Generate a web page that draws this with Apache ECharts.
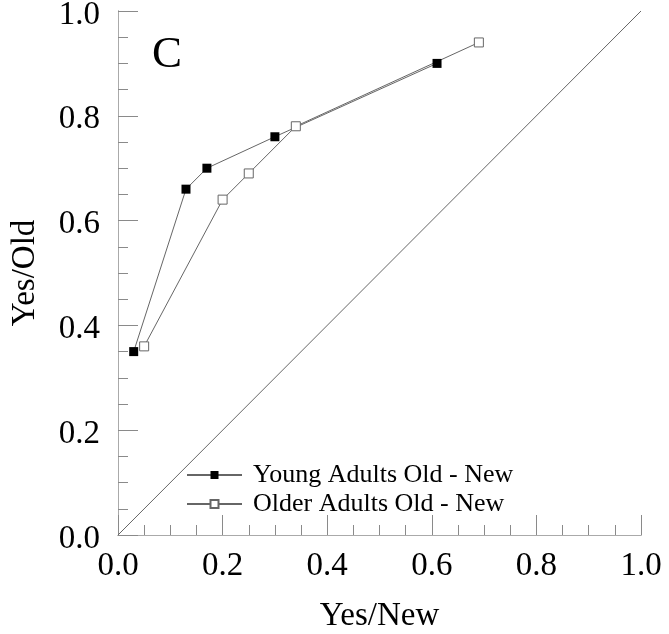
<!DOCTYPE html>
<html>
<head>
<meta charset="utf-8">
<script src="https://cdn.jsdelivr.net/npm/echarts@6/dist/echarts.min.js"></script>
<style>html,body{margin:0;padding:0;background:#fff}#c{width:669px;height:634px}</style>
</head>
<body>
<div id="c"></div>
<script>
const youngX = [0.03, 0.13, 0.17, 0.30, 0.61];
const youngY = [0.35, 0.66, 0.70, 0.76, 0.90];
const olderX = [0.05, 0.20, 0.25, 0.34, 0.69];
const olderY = [0.36, 0.64, 0.69, 0.78, 0.94];
const diagX = [0, 1];
const diagY = [0, 1];
const seriesNames = ['Young Adults Old - New', 'Older Adults Old - New'];
const panelLabel = 'C';
const xName = 'Yes/New';
const yName = 'Yes/Old';

const FONT = 'Liberation Serif';
const zip = (a, b) => a.map((v, i) => [v, b[i]]);
const chart = echarts.init(document.getElementById('c'));
const axisCommon = {
  type: 'value', min: 0, max: 1, interval: 0.2,
  axisLine: {show: true, lineStyle: {color: '#8a8a8a', width: 1}},
  splitLine: {show: false},
  axisLabel: {fontFamily: FONT, fontSize: 33, color: '#000', formatter: v => v.toFixed(1)},
  axisTick: {show: true, inside: true, length: 20, lineStyle: {color: '#8a8a8a'}},
  minorTick: {show: true, splitNumber: 4, length: 10, lineStyle: {color: '#8a8a8a'}},
  nameLocation: 'middle',
  nameTextStyle: {fontFamily: FONT, fontSize: 33, color: '#000'}
};
const borderAxis = {
  type: 'value', min: 0, max: 1,
  axisLine: {show: true, lineStyle: {color: '#aaaaaa', width: 1}},
  axisTick: {show: false}, axisLabel: {show: false}, splitLine: {show: false}
};
chart.setOption({
  animation: false,
  backgroundColor: '#fff',
  grid: {left: 118, top: 11, right: 28, bottom: 99, containLabel: false, outerBoundsMode: 'none'},
  xAxis: [
    Object.assign({}, axisCommon, {name: xName, nameGap: 65, axisLabel: Object.assign({}, axisCommon.axisLabel, {margin: 15})}),
    Object.assign({}, borderAxis, {position: 'top'})
  ],
  yAxis: [
    Object.assign({}, axisCommon, {name: yName, nameGap: 76, axisLabel: Object.assign({}, axisCommon.axisLabel, {
      margin: 18,
      formatter: v => '{a|' + v.toFixed(1) + '}',
      rich: {a: {fontFamily: FONT, fontSize: 33, color: '#000', padding: [8, 0, 0, 0]}}
    })}),
    Object.assign({}, borderAxis, {position: 'right'})
  ],
  legend: {
    left: 181, top: 457, orient: 'vertical',
    itemWidth: 55, itemHeight: 10, itemGap: 3,
    textStyle: {fontFamily: FONT, fontSize: 26, color: '#000', padding: [0, 0, 0, 6]},
    data: seriesNames
  },
  series: [
    {
      type: 'line', data: zip(diagX, diagY), showSymbol: false, symbol: 'none', silent: true,
      lineStyle: {color: '#666', width: 1}
    },
    {
      name: seriesNames[0], type: 'line', data: zip(youngX, youngY),
      symbol: 'rect', symbolSize: 9,
      lineStyle: {color: '#666', width: 1},
      itemStyle: {color: '#000', borderColor: '#000', borderWidth: 0}
    },
    {
      name: seriesNames[1], type: 'line', data: zip(olderX, olderY),
      symbol: 'rect', symbolSize: 9,
      lineStyle: {color: '#666', width: 1},
      itemStyle: {color: '#fff', borderColor: '#666', borderWidth: 1}
    }
  ],
  graphic: [{
    type: 'text', left: 152, top: 33,
    style: {text: panelLabel, font: '45px ' + FONT, fill: '#000'}
  }]
});
</script>
</body>
</html>
